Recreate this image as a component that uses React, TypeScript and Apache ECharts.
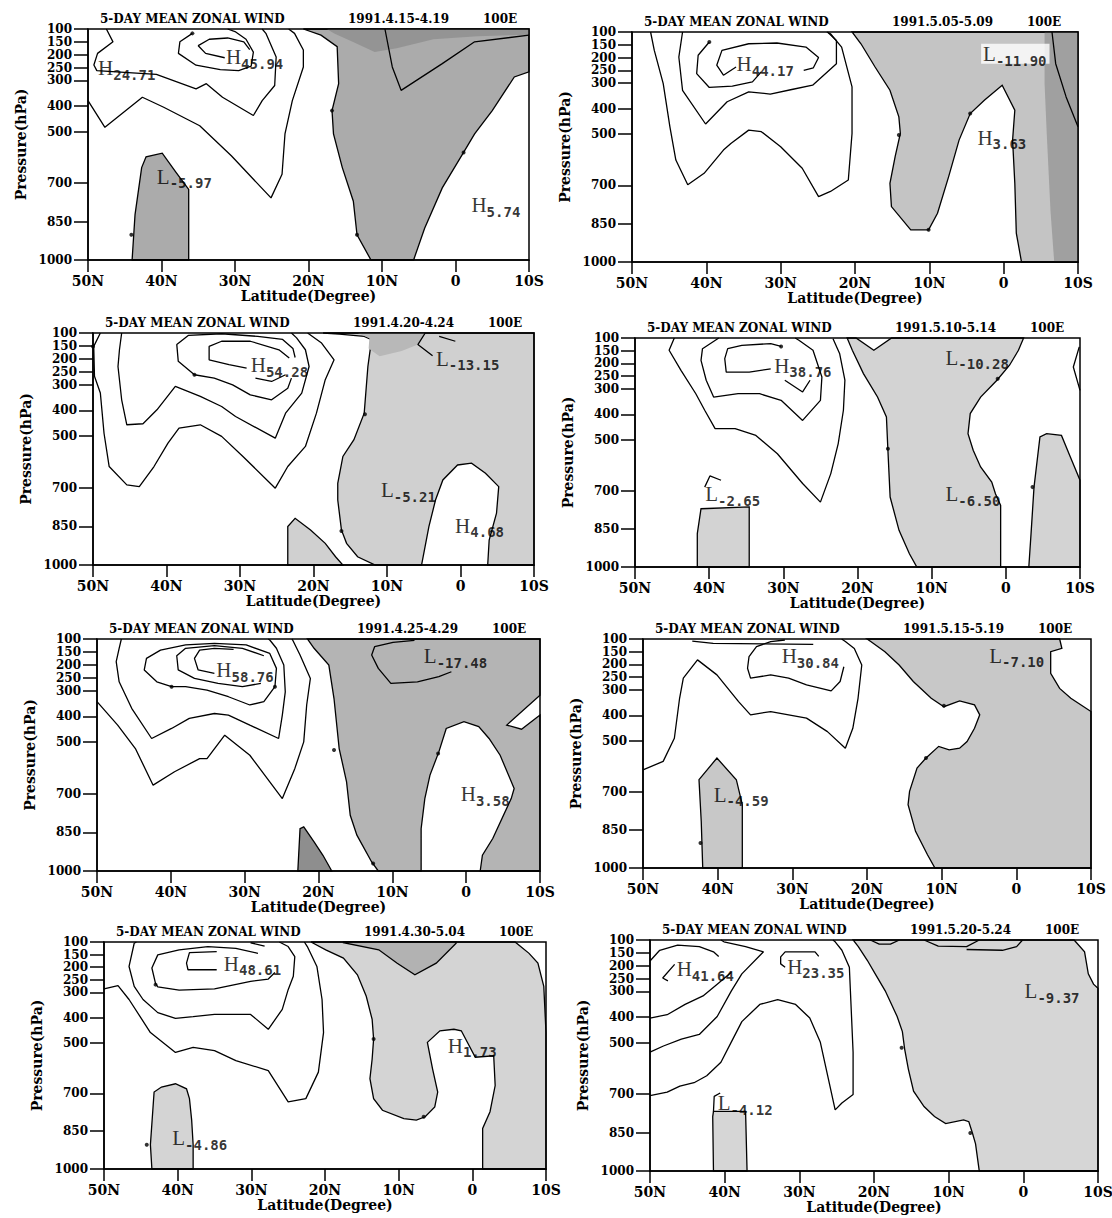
import React, { useEffect, useRef } from "react";
import * as echarts from "echarts";

type Pt = [number, number];
type Lbl = [string, string, number, number];

// ---------- axis values ----------
const PRESSURE_TICKS = [100, 150, 200, 250, 300, 400, 500, 700, 850, 1000];
const LAT_MIN = -10;
const LAT_MAX = 50;
const LAT_STEP = 10;

const TITLE_TEXT = "5-DAY MEAN ZONAL WIND";
const TITLE_LON = "100E";
const DATES = [
  "1991.4.15-4.19",
  "1991.5.05-5.09",
  "1991.4.20-4.24",
  "1991.5.10-5.14",
  "1991.4.25-4.29",
  "1991.5.15-5.19",
  "1991.4.30-5.04",
  "1991.5.20-5.24",
];

// ---------- Panel 1 : 1991.4.15-4.19 ----------
const P1_C10: Pt[] = [[50, 379], [47.7, 483], [42.6, 366], [39.7, 405], [34.8, 477], [30.5, 594], [25.1, 758], [23.6, 666], [23.2, 509], [22.2, 379], [20.7, 248], [20.7, 182], [21.9, 117], [22.7, 100]];
const P1_C20: Pt[] = [[47.5, 100], [46.6, 150], [48.7, 195], [49.2, 240], [48.8, 262], [44.5, 270], [40.7, 277], [35.3, 333], [33.9, 313], [31.7, 366], [27.5, 437], [26.3, 379], [24.6, 320], [24.4, 209], [25.8, 117], [26.3, 100]];
const P1_C30: Pt[] = [[35.8, 117], [37.5, 150], [37.7, 195], [35.3, 241], [32, 258], [29.5, 262], [27.8, 245], [27.5, 190], [28.5, 140], [30, 110], [31, 100]];
const P1_C40: Pt[] = [[31.4, 212], [34, 195], [35, 165], [33.5, 140], [31, 135], [28.8, 150], [28, 180]];
const P1_LMIN: Pt[] = [[9.6, 100], [8.6, 248], [7.4, 339], [1.8, 235], [-2.6, 150], [-10, 124]];
const P1_SH_A: Pt[] = [[20.7, 100], [-10, 100], [-10, 267], [-8, 287], [-5, 418], [-2.6, 509], [-1.1, 581], [1.8, 719], [4.2, 876], [5.7, 1000], [11.5, 1000], [13.4, 902], [13.9, 771], [15.4, 640], [16.6, 509], [16.8, 418], [15.9, 313], [16.1, 169], [18.3, 124]];
const P1_SH_B: Pt[] = [[44, 1000], [43.6, 823], [42.7, 640], [42.1, 598], [39.9, 584], [38, 660], [36.3, 725], [36.3, 1000]];
const P1_SH_DARK: Pt[] = [[17.5, 100], [-10, 100], [-10, 122], [-3, 128], [3, 140], [8, 175], [11, 190], [14, 150], [16.5, 118]];
const P1_DOTS: Pt[] = [[35.8, 117], [16.8, 418], [13.4, 902], [-1.1, 581], [44.1, 902]];
const P1_LABELS: Lbl[] = [["H", "24.71", 48.7, 250], ["H", "45.94", 31.3, 208], ["L", "-5.97", 40.7, 673], ["H", "5.74", -2.1, 784]];

// ---------- Panel 2 : 1991.5.05-5.09 ----------
const P2_C10: Pt[] = [[47.5, 100], [47, 172], [45.8, 302], [44.9, 471], [44.1, 601], [42.5, 698], [40.3, 653], [37.7, 562], [36.7, 536], [34.3, 484], [32.6, 490], [30, 549], [27.1, 633], [24.9, 744], [23.3, 724], [20.9, 679], [20.4, 497], [20.4, 315], [21.8, 159], [23.3, 107], [23.8, 100]];
const P2_C20: Pt[] = [[43.2, 100], [43.7, 198], [43.2, 328], [40.1, 460], [37.2, 373], [34.3, 334], [31.4, 343], [28.5, 325], [25.7, 308], [22.5, 224], [22.5, 133], [23.7, 100]];
const P2_C30: Pt[] = [[39.6, 139], [41.1, 191], [41.3, 263], [39.6, 317], [36.5, 312], [33.8, 295], [32.6, 256]];
const P2_C40: Pt[] = [[36, 237], [37.7, 269], [38.6, 230], [37.9, 172], [34.3, 146], [30.5, 143], [26.6, 159], [24.9, 200], [25.6, 240], [26.9, 250]];
const P2_SH_A: Pt[] = [[20.4, 100], [-10, 100], [-10, 1000], [-2.4, 1000], [-1.7, 887], [-1.5, 692], [-1.2, 523], [-1.5, 406], [0.2, 308], [2.6, 367], [4.5, 419], [6, 523], [7.4, 666], [8.9, 809], [10.1, 874], [12.5, 874], [15.1, 783], [15.3, 692], [14.6, 588], [13.9, 497], [14.1, 432], [15.3, 328], [17.3, 237], [19.2, 146]];
const P2_SH_DARK: Pt[] = [[-5.5, 100], [-10, 100], [-10, 1000], [-6.8, 1000], [-6.3, 800], [-5.8, 500], [-5.5, 300]];
const P2_LINE: Pt[] = [[-6.5, 100], [-7, 224], [-8.4, 354], [-10, 471]];
const P2_DOTS: Pt[] = [[39.6, 139], [14.1, 503], [4.5, 419], [10.1, 874]];
const P2_LABELS: Lbl[] = [["H", "44.17", 36, 224], ["L", "-11.90", 3.1, 185], ["H", "3.63", 3.6, 512]];

// ---------- Panel 3 : 1991.4.20-4.24 ----------
const P3_C10: Pt[] = [[49, 100], [49.9, 152], [49.8, 268], [49, 333], [48.5, 489], [47.8, 618], [45.4, 689], [43.7, 696], [41.7, 618], [39.8, 527], [38.3, 469], [35.4, 456], [32.5, 501], [29.6, 579], [25.2, 702], [23.5, 618], [21.1, 540], [19.6, 411], [18.4, 281], [17.2, 204], [18.9, 139], [20.8, 100]];
const P3_C20: Pt[] = [[46.1, 100], [46.4, 165], [46.6, 230], [46.1, 359], [45.4, 456], [43.2, 452], [41.3, 398], [38.8, 307], [35.4, 346], [32.5, 385], [30.6, 424], [25.2, 508], [23.8, 411], [21.6, 333], [20.6, 230], [21.1, 165], [22.3, 119], [23, 100]];
const P3_C30: Pt[] = [[23, 275], [23.5, 314], [25.7, 359], [28.6, 340], [31, 301], [33.5, 275], [36.2, 262], [38.4, 210], [38.6, 145], [37, 109], [32.5, 103], [27.6, 113], [24.2, 125], [22.8, 160], [22.5, 195]];
const P3_C40: Pt[] = [[29.1, 236], [31.5, 223], [34.2, 204], [34.2, 152], [32.5, 132], [28.6, 132], [24.7, 165], [23.3, 197]];
const P3_C40B: Pt[] = [[27.9, 275], [25.7, 288], [23.8, 262]];
const P3_LMIN_A: Pt[] = [[4.8, 100], [5.8, 145], [3.8, 188]];
const P3_LMIN_B: Pt[] = [[2.9, 113], [0.7, 132]];
const P3_SH_A: Pt[] = [[18.7, 100], [-10, 100], [-10, 1000], [-3.7, 1000], [-3.9, 903], [-4.9, 799], [-5.2, 696], [-3.4, 644], [-1.5, 605], [0.4, 612], [2.4, 670], [3.4, 748], [4.3, 851], [5.3, 1000], [11.6, 1000], [14, 968], [15.5, 916], [16.2, 864], [16.7, 748], [16.7, 683], [16, 579], [14.5, 514], [13.1, 411], [12.6, 230], [12.1, 126], [13.1, 113], [16.5, 104]];
const P3_SH_B: Pt[] = [[23.5, 1000], [23.5, 851], [22.5, 819], [20.4, 864], [18.4, 916], [17, 968], [16, 1000]];
const P3_SH_DARK: Pt[] = [[14, 100], [4.8, 100], [5.8, 145], [8, 170], [11, 190], [12.5, 160], [12.4, 120]];
const P3_DOTS: Pt[] = [[36.2, 262], [13, 415], [16.2, 868], [50, 152]];
const P3_LABELS: Lbl[] = [["H", "54.28", 28.6, 223], ["L", "-13.15", 3.4, 197], ["L", "-5.21", 10.9, 709], ["H", "4.68", 0.8, 845]];

// ---------- Panel 4 : 1991.5.10-5.14 ----------
const P4_C10: Pt[] = [[44.7, 100], [45.4, 148], [43.8, 227], [41.8, 319], [40.6, 384], [39.2, 456], [36.5, 456], [33.7, 483], [30.8, 555], [27.4, 672], [25, 745], [23.6, 633], [22.6, 515], [21.9, 384], [21.7, 266], [22.4, 162], [23.3, 103]];
const P4_C20: Pt[] = [[38.7, 100], [40.9, 142], [41.1, 188], [40.4, 266], [39.4, 332], [36.1, 319], [33.2, 319], [30.3, 345], [27.4, 424], [25, 345], [24.8, 253], [26, 148], [27.9, 109], [28.4, 100]];
const P4_C30: Pt[] = [[30.3, 133], [31.7, 122], [35.6, 129], [37.5, 142], [37.9, 181], [37.7, 234], [34.6, 234], [31.7, 221]];
const P4_C30B: Pt[] = [[29.8, 266], [27.4, 312], [26.4, 266]];
const P4_TIP: Pt[] = [[40.6, 686], [39.9, 642], [38.4, 659]];
const P4_EDGE: Pt[] = [[-9.9, 135], [-9.1, 214], [-10, 306]];
const P4_SH_A: Pt[] = [[15.4, 100], [-2.4, 100], [-1.7, 148], [-0.5, 207], [1.2, 266], [3.4, 332], [4.8, 397], [5.1, 476], [4.4, 541], [3.4, 607], [1.9, 666], [1.4, 712], [0.7, 758], [0.7, 1000], [12, 1000], [13, 948], [14.4, 856], [15.6, 725], [15.9, 541], [16.1, 410], [17.3, 332], [19.2, 240], [20.7, 148], [21.4, 100], [20.2, 100], [17.8, 148]];
const P4_SH_B: Pt[] = [[41.6, 1000], [41.6, 869], [41.1, 771], [34.6, 764], [34.6, 1000]];
const P4_SH_C: Pt[] = [[-3.1, 1000], [-3.4, 869], [-3.8, 686], [-4.6, 489], [-5.5, 476], [-7.5, 483], [-8.7, 568], [-10, 659], [-10, 1000]];
const P4_DOTS: Pt[] = [[30.3, 133], [15.9, 535], [1.1, 260], [-3.6, 686]];
const P4_LABELS: Lbl[] = [["H", "38.76", 31.3, 207], ["L", "-10.28", 8.2, 175], ["L", "-2.65", 40.6, 712], ["L", "-6.50", 8.2, 712]];

// ---------- Panel 5 : 1991.4.25-4.29 ----------
const P5_C10: Pt[] = [[50, 343], [47.2, 434], [44.8, 525], [42.4, 667], [39.5, 615], [36.1, 564], [35.1, 564], [32.7, 473], [29.3, 551], [24.9, 719], [23.2, 602], [22, 499], [21.6, 356], [21.1, 253], [22.5, 162], [23.5, 104], [23.6, 100]];
const P5_C20: Pt[] = [[46.7, 100], [47, 136], [47.4, 188], [47, 266], [45.3, 369], [42.6, 486], [39.9, 447], [37.5, 408], [34.1, 389], [32.2, 395], [29.3, 434], [25.4, 486], [24.9, 395], [24.5, 305], [24.7, 201], [25.7, 136], [26.6, 104], [26.8, 100]];
const P5_C30: Pt[] = [[39.9, 285], [41.9, 266], [43.6, 220], [43.3, 175], [41.4, 143], [38, 123], [34.1, 117], [29.8, 123], [26.6, 156], [25.7, 214], [25.9, 285], [27.4, 343], [29.3, 356], [32.2, 324], [35.1, 298], [38, 285], [39.9, 285]];
const P5_C40: Pt[] = [[27.8, 272], [30.3, 285], [33.6, 272], [36.8, 253], [39, 220], [39.2, 165], [38, 136], [34.1, 126], [30.3, 136], [27.4, 165]];
const P5_C50: Pt[] = [[34.1, 233], [36.3, 220], [36.8, 175], [36.1, 143], [34.1, 136], [31.5, 140]];
const P5_LMIN: Pt[] = [[7, 105], [9.9, 113], [12.4, 130], [12.8, 162], [11.9, 214], [10.2, 272], [6.6, 266], [3.7, 246], [2, 227]];
const P5_SH_A: Pt[] = [[21.5, 100], [-10, 100], [-10, 318], [-5.5, 434], [-7.5, 450], [-10, 395], [-10, 1000], [-1.9, 1000], [-2.2, 939], [-3.6, 874], [-6.1, 719], [-6.5, 680], [-4.6, 551], [-3.1, 486], [-1.7, 440], [0.3, 421], [2.7, 447], [3.7, 538], [4.9, 628], [5.6, 719], [6.1, 836], [6.1, 1000], [11.9, 1000], [12.8, 965], [14.8, 861], [15.7, 784], [16.2, 654], [17.2, 525], [17.9, 331], [18.6, 201], [20.6, 136]];
const P5_SH_B: Pt[] = [[22.8, 1000], [22.5, 836], [22, 829], [20.6, 887], [19.4, 939], [18.2, 1000]];
const P5_DOTS: Pt[] = [[39.9, 285], [17.9, 531], [3.8, 544], [12.6, 971], [25.9, 285]];
const P5_LABELS: Lbl[] = [["H", "58.76", 33.9, 220], ["L", "-17.48", 5.8, 165], ["H", "3.58", 0.8, 700]];

// ---------- Panel 6 : 1991.5.15-5.19 ----------
const P6_C10: Pt[] = [[50, 614], [47.3, 581], [45.8, 490], [45.1, 333], [44.6, 254], [42.7, 182], [40.1, 241], [37.2, 346], [35.6, 398], [32.9, 385], [28.1, 411], [25.3, 464], [22.9, 529], [21.9, 451], [21.2, 333], [20.7, 202], [21.7, 137], [22.9, 110], [23.4, 100]];
const P6_TOP: Pt[] = [[43.4, 108], [40.6, 117], [27.2, 121]];
const P6_C20: Pt[] = [[31, 104], [32.9, 110], [34.8, 130], [35.8, 169], [36, 215], [35.6, 254], [32.9, 241], [30.5, 254], [28.1, 280], [24.8, 304], [23.6, 267], [23.1, 209]];
const P6_SH_A: Pt[] = [[20, 100], [-5.8, 100], [-6.1, 137], [-4.6, 150], [-4.6, 235], [-5.8, 294], [-7.3, 333], [-10, 385], [-10, 1000], [10.9, 1000], [11.9, 948], [13.5, 856], [14.5, 751], [14.3, 699], [13.3, 607], [12.1, 568], [10.4, 522], [9, 536], [7.6, 529], [6.6, 503], [5.6, 451], [4.9, 398], [5.6, 359], [7.6, 343], [9.7, 366], [11.4, 333], [13.8, 267], [15.7, 202], [17.6, 150], [19.5, 110]];
const P6_SH_B: Pt[] = [[42, 1000], [42.2, 817], [42.5, 653], [40.1, 568], [37.5, 653], [36.7, 751], [36.7, 1000]];
const P6_DOTS: Pt[] = [[9.7, 362], [12.1, 568], [42.3, 902]];
const P6_LABELS: Lbl[] = [["H", "30.84", 31.5, 165], ["L", "-7.10", 3.7, 163], ["L", "-4.59", 40.6, 710]];

// ---------- Panel 7 : 1991.4.30-5.04 ----------
const P7_CA: Pt[] = [[50, 286], [48.1, 273], [46.6, 328], [43.7, 459], [40.3, 538], [37.9, 518], [35, 531], [32.1, 570], [27.7, 610], [25, 734], [22.6, 721], [20.9, 616], [20.2, 459], [20.4, 328], [21.1, 197], [22.4, 118], [22.8, 100]];
const P7_CB: Pt[] = [[45.6, 100], [45.9, 105], [46.6, 197], [45.9, 276], [44.7, 328], [42.7, 380], [40.3, 403], [37.9, 396], [35, 387], [30.1, 387], [27.7, 446], [25.8, 367], [25, 289], [24.3, 236], [24.1, 158], [25, 118], [26.2, 100]];
const P7_CC: Pt[] = [[26.8, 221], [27.7, 247], [30.1, 256], [35, 286], [39.8, 291], [42.7, 278], [43, 265], [43.5, 203], [42.7, 151], [39.8, 131], [35.9, 118], [32.1, 125], [29.1, 145]];
const P7_CD: Pt[] = [[34.7, 138], [38.4, 142], [38.8, 184], [38.6, 210], [34.7, 210]];
const P7_TOPSEG: Pt[] = [[30.1, 103], [28.2, 116]];
const P7_SH_A: Pt[] = [[21.9, 100], [-5.8, 100], [-7.7, 145], [-8.9, 184], [-9.7, 276], [-10, 459], [-10, 1000], [-1.4, 1000], [-1.4, 839], [-2.4, 773], [-3.1, 669], [-2.9, 551], [-0.4, 557], [1.5, 452], [2.5, 446], [4.4, 452], [6.1, 498], [5.4, 603], [4.7, 695], [5.1, 754], [6.4, 793], [7.6, 806], [9.3, 800], [12.2, 767], [13.4, 721], [13.9, 642], [13.6, 564], [13.4, 485], [13.6, 407], [14.4, 315], [15.6, 230], [17.5, 164], [19.9, 131]];
const P7_SH_DARK: Pt[] = [[17.5, 100], [17.5, 103], [12.7, 131], [10.2, 184], [7.8, 230], [4.9, 184], [2.2, 105], [2.2, 100]];
const P7_SH_B: Pt[] = [[43.5, 1000], [43.7, 904], [43.2, 695], [42.2, 675], [40.3, 662], [38.8, 682], [38.4, 721], [38.1, 806], [37.9, 904], [37.9, 1000]];
const P7_DOTS: Pt[] = [[43, 269], [13.4, 485], [6.6, 793], [44.2, 904]];
const P7_LABELS: Lbl[] = [["H", "48.61", 33.8, 184], ["H", "1.73", 3.4, 509], ["L", "-4.86", 40.8, 876]];

// ---------- Panel 8 : 1991.5.20-5.24 ----------
const P8_CA: Pt[] = [[50, 706], [47.7, 693], [46, 669], [44.1, 656], [42.4, 629], [40.5, 576], [39.1, 497], [37.7, 418], [35.3, 351], [32.9, 332], [30.5, 351], [28.6, 404], [27.2, 497], [26.2, 629], [25.2, 762], [24.3, 735], [22.8, 702], [22.8, 537], [23.1, 338], [23.3, 206], [24.3, 140], [25.2, 107], [25.5, 100]];
const P8_CB: Pt[] = [[50, 537], [48.2, 513], [45.8, 486], [43.4, 468], [41, 398], [39.1, 298], [37.7, 232], [34.8, 146], [37.2, 126], [40.1, 107], [40.5, 100]];
const P8_CC: Pt[] = [[50, 404], [47.7, 391], [45.3, 351], [42.9, 318], [41, 272], [39.1, 226]];
const P8_CD: Pt[] = [[50, 182], [48.7, 140], [46.3, 120], [43.4, 126], [41.5, 146], [40.8, 164]];
const P8_CE: Pt[] = [[46.7, 195], [48.3, 248], [47.6, 259]];
const P8_CF: Pt[] = [[27.4, 164], [27.9, 146], [31.9, 146], [32.5, 166], [32.5, 193], [31.9, 206]];
const P8_HOOK: Pt[] = [[41.5, 768], [41.4, 709], [40.6, 696]];
const P8_TOP_A: Pt[] = [[20.5, 100], [19.3, 116], [17.8, 116], [16.6, 100]];
const P8_TOP_B: Pt[] = [[13.3, 100], [11.4, 124], [7.6, 126], [5.9, 100]];
const P8_TOP_C: Pt[] = [[7.6, 137], [2.8, 140], [0.9, 126], [0.1, 100]];
const P8_SH_A: Pt[] = [[22.8, 100], [-6.8, 100], [-8.2, 146], [-8.7, 232], [-9.4, 272], [-10, 288], [-10, 1000], [5.9, 1000], [6.4, 894], [6.8, 854], [7.3, 808], [8, 801], [10.4, 815], [11.9, 788], [13.3, 749], [14.7, 689], [15.4, 603], [15.9, 524], [16.2, 457], [16.9, 398], [18.5, 298], [19.7, 239], [20.9, 179], [22.1, 126]];
const P8_SH_B: Pt[] = [[41.5, 1000], [41.6, 788], [41.5, 768], [37.2, 768], [37, 1000]];
const P8_DOTS: Pt[] = [[16.3, 520], [7.1, 852]];
const P8_LABELS: Lbl[] = [["H", "41.64", 46.5, 212], ["H", "23.35", 31.7, 203], ["L", "-9.37", -0.1, 298], ["L", "-4.12", 41, 735]];

// ---------- panel assembly ----------
type Shade = { pts: Pt[]; dark?: boolean; stroke?: boolean };
type Panel = { lines: Pt[][]; shades: Shade[]; dots: Pt[]; labels: Lbl[] };

const PANELS: Panel[] = [
  { lines: [P1_C10, P1_C20, P1_C30, P1_C40, P1_LMIN], shades: [{ pts: P1_SH_A, stroke: true }, { pts: P1_SH_DARK, dark: true }, { pts: P1_SH_B, stroke: true }], dots: P1_DOTS, labels: P1_LABELS },
  { lines: [P2_C10, P2_C20, P2_C30, P2_C40, P2_LINE], shades: [{ pts: P2_SH_A, stroke: true }, { pts: P2_SH_DARK, dark: true }], dots: P2_DOTS, labels: P2_LABELS },
  { lines: [P3_C10, P3_C20, P3_C30, P3_C40, P3_C40B, P3_LMIN_A, P3_LMIN_B], shades: [{ pts: P3_SH_A, stroke: true }, { pts: P3_SH_B, stroke: true }, { pts: P3_SH_DARK, dark: true }], dots: P3_DOTS, labels: P3_LABELS },
  { lines: [P4_C10, P4_C20, P4_C30, P4_C30B, P4_TIP, P4_EDGE], shades: [{ pts: P4_SH_A, stroke: true }, { pts: P4_SH_B, stroke: true }, { pts: P4_SH_C, stroke: true }], dots: P4_DOTS, labels: P4_LABELS },
  { lines: [P5_C10, P5_C20, P5_C30, P5_C40, P5_C50, P5_LMIN], shades: [{ pts: P5_SH_A, stroke: true }, { pts: P5_SH_B, dark: true, stroke: true }], dots: P5_DOTS, labels: P5_LABELS },
  { lines: [P6_C10, P6_TOP, P6_C20], shades: [{ pts: P6_SH_A, stroke: true }, { pts: P6_SH_B, stroke: true }], dots: P6_DOTS, labels: P6_LABELS },
  { lines: [P7_CA, P7_CB, P7_CC, P7_CD, P7_TOPSEG], shades: [{ pts: P7_SH_A, stroke: true }, { pts: P7_SH_DARK, dark: true, stroke: true }, { pts: P7_SH_B, stroke: true }], dots: P7_DOTS, labels: P7_LABELS },
  { lines: [P8_CA, P8_CB, P8_CC, P8_CD, P8_CE, P8_CF, P8_HOOK, P8_TOP_A, P8_TOP_B, P8_TOP_C], shades: [{ pts: P8_SH_A, stroke: true }, { pts: P8_SH_B, stroke: true }], dots: P8_DOTS, labels: P8_LABELS },
];

// ---------- layout & style (kept apart from the data) ----------
const LAYOUT = [
  { left: 88, top: 29, width: 441, height: 231 },
  { left: 632, top: 32, width: 446, height: 230 },
  { left: 93, top: 333, width: 441, height: 232 },
  { left: 635, top: 338, width: 445, height: 229 },
  { left: 97, top: 639, width: 443, height: 232 },
  { left: 643, top: 639, width: 448, height: 229 },
  { left: 104, top: 942, width: 442, height: 227 },
  { left: 650, top: 940, width: 448, height: 231 },
];
const SHADE_COLORS = [
  { base: "#ababab", dark: "#949494" },
  { base: "#c4c4c4", dark: "#a0a0a0" },
  { base: "#d0d0d0", dark: "#b8b8b8" },
  { base: "#d3d3d3", dark: "#b8b8b8" },
  { base: "#b4b4b4", dark: "#8e8e8e" },
  { base: "#c8c8c8", dark: "#acacac" },
  { base: "#d4d4d4", dark: "#b2b2b2" },
  { base: "#d6d6d6", dark: "#b8b8b8" },
];
const SERIF = "DejaVu Serif";
const RICH = {
  h: { fontFamily: "Liberation Serif", fontSize: 21, color: "#000", lineHeight: 20, verticalAlign: "top" },
  s: { fontFamily: "DejaVu Sans Mono", fontWeight: "bold", fontSize: 14, color: "#000", lineHeight: 14, padding: [10, 0, 0, 0], verticalAlign: "top" },
};

function latFmt(v: number) {
  if (v === 0) return "0";
  return v > 0 ? `${v}N` : `${-v}S`;
}

function buildOption() {
  const grid: any[] = [];
  const xAxis: any[] = [];
  const yAxis: any[] = [];
  const series: any[] = [];
  const title: any[] = [];
  const axisText = { color: "#000", fontFamily: SERIF, fontWeight: "bold", fontSize: 14 };
  const blackLine = { color: "#000", width: 1.5 };

  PANELS.forEach((pn, i) => {
    const b = LAYOUT[i];
    grid.push({ left: b.left, top: b.top, width: b.width, height: b.height, show: true, borderColor: "#000", borderWidth: 1.5, backgroundColor: "transparent", z: 10, containLabel: false, outerBoundsMode: "none" });
    const tStyle = { color: "#000", fontFamily: SERIF, fontWeight: "bold", fontSize: 12 };
    title.push({ text: TITLE_TEXT, left: b.left + 12, top: b.top - 16, padding: 0, textStyle: tStyle });
    title.push({ text: DATES[i], left: b.left + 260, top: b.top - 16, padding: 0, textStyle: tStyle });
    title.push({ text: TITLE_LON, left: b.left + 395, top: b.top - 16, padding: 0, textStyle: tStyle });

    xAxis.push({
      gridIndex: i, type: "value", min: LAT_MIN, max: LAT_MAX, interval: LAT_STEP, inverse: true, z: 10,
      axisLine: { onZero: false, lineStyle: blackLine },
      axisTick: { length: 12, lineStyle: blackLine },
      axisLabel: { ...axisText, margin: 14, formatter: latFmt, showMinLabel: true, showMaxLabel: true },
      splitLine: { show: false },
      name: "Latitude(Degree)", nameLocation: "middle", nameGap: 29, nameTextStyle: axisText,
    });
    yAxis.push({
      gridIndex: i, type: "value", min: 100, max: 1000, inverse: true, z: 10,
      axisLine: { onZero: false, lineStyle: blackLine },
      axisTick: { length: 14, lineStyle: blackLine, customValues: PRESSURE_TICKS },
      axisLabel: {
        ...axisText, fontSize: 12, lineHeight: 10, margin: 16, customValues: PRESSURE_TICKS,
        showMinLabel: true, showMaxLabel: true, hideOverlap: false,
        formatter: (v: number) => String(v),
      },
      splitLine: { show: false },
      name: "Pressure(hPa)", nameLocation: "middle", nameGap: 60, nameRotate: 90, nameTextStyle: axisText,
    });

    const colors = SHADE_COLORS[i];
    pn.shades.forEach((sh) => {
      const pts = sh.pts;
      series.push({
        type: "custom", coordinateSystem: "cartesian2d", xAxisIndex: i, yAxisIndex: i,
        silent: true, z: sh.dark ? 2 : 1, data: pts, encode: { x: 0, y: 1 },
        renderItem: (params: any, api: any) => {
          if (params.dataIndex !== 0) return null;
          return {
            type: "polygon",
            shape: { points: pts.map((p) => api.coord(p)) },
            style: { fill: sh.dark ? colors.dark : colors.base, stroke: sh.stroke ? "#000" : "none", lineWidth: 1.3 },
          };
        },
      });
    });

    pn.lines.forEach((ln) => {
      series.push({
        type: "line", xAxisIndex: i, yAxisIndex: i, data: ln, symbol: "none", showSymbol: false,
        lineStyle: { color: "#000", width: 1.3 }, z: 3, silent: true,
      });
    });

    series.push({
      type: "scatter", xAxisIndex: i, yAxisIndex: i, data: pn.dots, symbolSize: 4,
      itemStyle: { color: "#000" }, z: 4, silent: true,
    });

    series.push({
      type: "scatter", xAxisIndex: i, yAxisIndex: i, symbolSize: 1, silent: true, z: 5,
      itemStyle: { color: "rgba(0,0,0,0)" },
      label: { show: true, position: "right", distance: 0, rich: RICH },
      data: pn.labels.map(([k, v, lat, p]) => ({
        value: [lat, p],
        label: {
          formatter: `{h|${k}}{s|${v}}`,
          ...(v === "-11.90" ? { backgroundColor: "#fff", padding: [0, 3, 0, 2] } : {}),
        },
      })),
    });
  });

  return { animation: false, backgroundColor: "#fff", grid, xAxis, yAxis, series, title };
}

export default function App() {
  const ref = useRef<HTMLDivElement>(null);
  useEffect(() => {
    const el = ref.current;
    if (!el) return;
    const chart = echarts.init(el, null, { renderer: "svg" });
    chart.setOption(buildOption() as any);
    return () => chart.dispose();
  }, []);
  return <div ref={ref} style={{ position: "absolute", left: 0, top: 0, width: 1112, height: 1218 }} />;
}
